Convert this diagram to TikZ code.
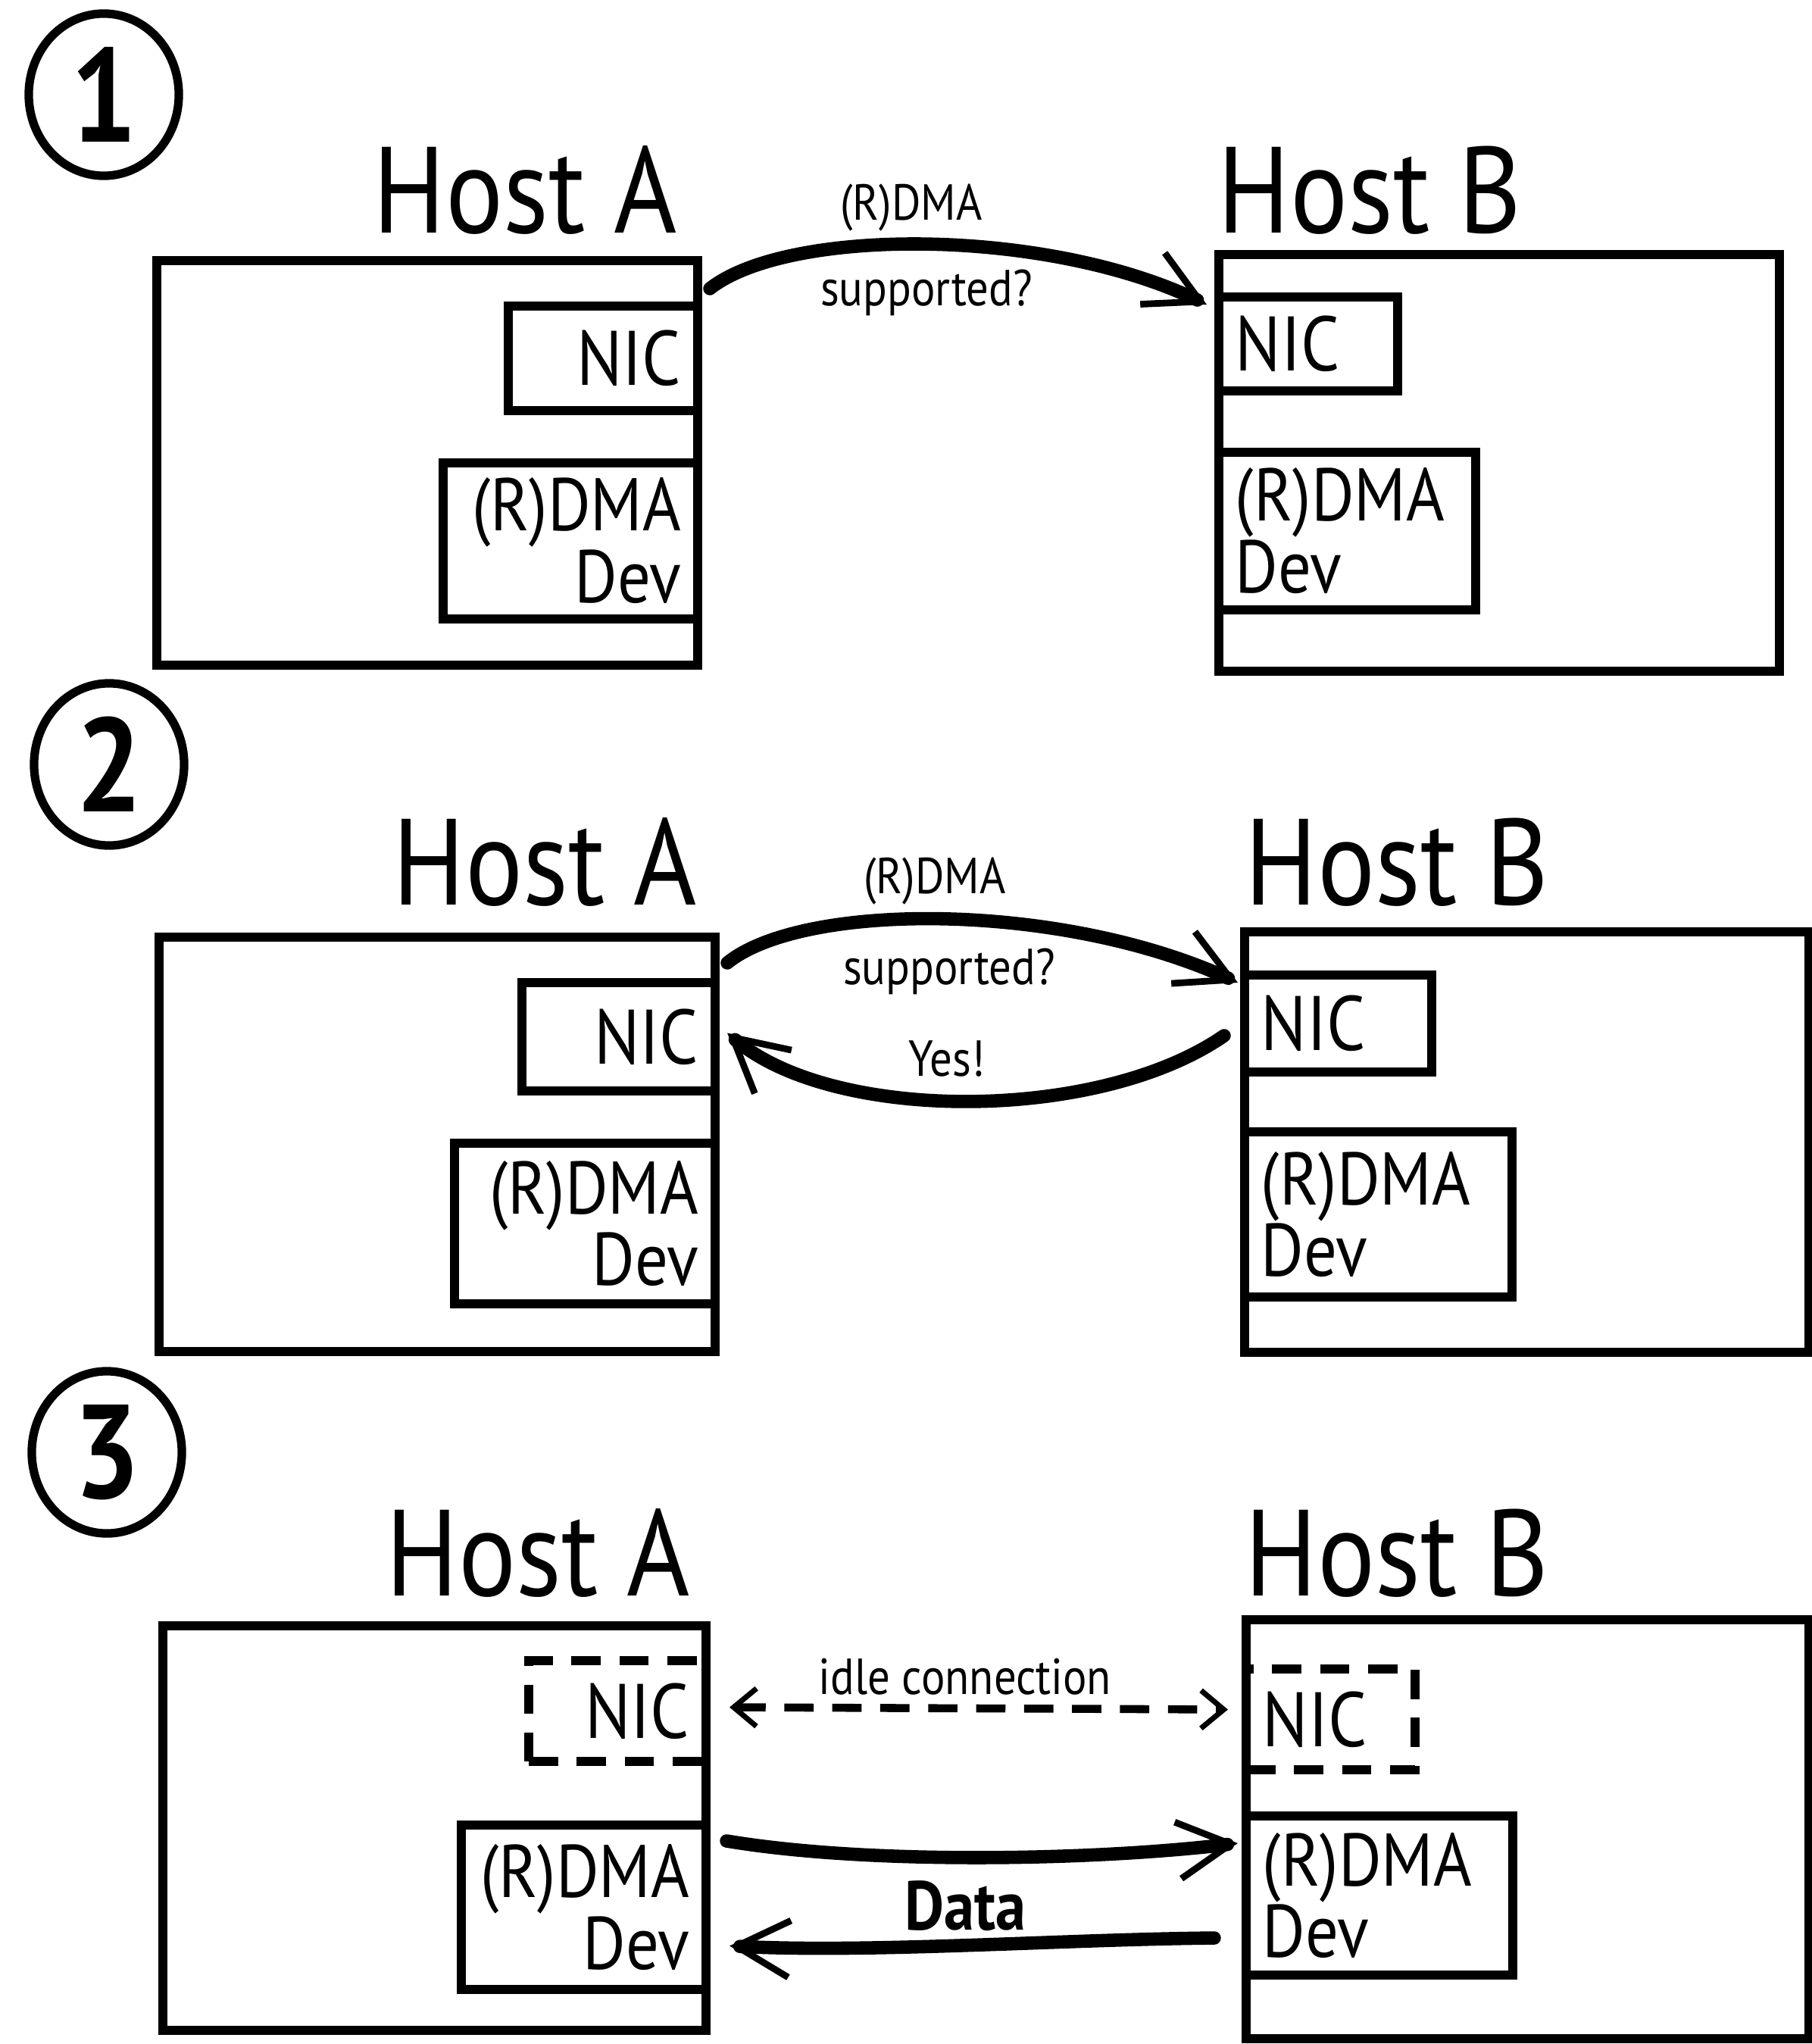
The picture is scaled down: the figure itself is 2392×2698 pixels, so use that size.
\documentclass[tikz,border=0pt]{standalone}
\usepackage{fontspec}
\setmainfont[FakeStretch=0.88]{PT Sans}
\usetikzlibrary{arrows.meta,shapes.geometric}

\tikzset{
    numring/.style={draw, ellipse, line width=3.2pt, inner sep=0pt,
        minimum width=1.98cm, minimum height=2.14cm,
        font=\fontsize{50}{50}\selectfont\bfseries},
    hostname/.style={font=\fontsize{46}{48}\selectfont, inner sep=0pt},
    host/.style={draw, line width=3.4pt, inner sep=0pt},
    part/.style={draw, line width=3.4pt, inner xsep=0.22cm, inner ysep=0pt},
    nic/.style={part, font=\fontsize{29}{30}\selectfont},
    dev/.style={part, font=\fontsize{28}{27}\selectfont},
    idle/.style={dash pattern=on 11pt off 7pt},
    note/.style={font=\fontsize{19}{20}\selectfont, inner sep=0pt},
    flow/.style={line width=5pt, line cap=round,
        -{Straight Barb[length=7mm, width=7.5mm, line width=2.5pt]}},
    flowidle/.style={line width=3pt, idle,
        {Straight Barb[length=3mm, width=5mm, line width=2pt]}-{Straight Barb[length=3mm, width=5mm, line width=2pt]}}
}

\begin{document}
\begin{tikzpicture}[x=0.01cm, y=-0.01cm]
    \useasboundingbox (0,0) rectangle (2392,2698);

    %numeros
    \node[numring] (n1) at (137,125) {1};
    \node[numring] (n2) at (144,1009) {2};
    \node[numring] (n3) at (141,1917) {3};

    %paso 1
    \node[hostname, anchor=base east] (tA1) at (895,308) {Host A};
    \node[hostname, anchor=base west] (tB1) at (1607,308) {Host B};
    \node[host, minimum width=7.14cm, minimum height=5.34cm] (hostA1) at (564,611) {};
    \node[nic, minimum width=2.50cm, minimum height=1.38cm, text width=2.06cm, align=right] (nicA1) at (796,473) {NIC};
    \node[dev, minimum width=3.36cm, minimum height=2.06cm, text width=2.92cm, align=right] (devA1) at (753,714) {(R)DMA\\Dev};
    \node[host, minimum width=7.40cm, minimum height=5.50cm] (hostB1) at (1979,611) {};
    \node[nic, minimum width=2.36cm, minimum height=1.24cm, text width=1.92cm, align=left] (nicB1) at (1727,454) {NIC};
    \node[dev, minimum width=3.39cm, minimum height=2.08cm, text width=2.95cm, align=left] (devB1) at (1778.5,701) {(R)DMA\\Dev};

    \draw[flow] ([shift={(10,-17)}]nicA1.north east) .. controls (1040,300) and (1380,300) .. ([shift={(-10,16)}]nicB1.north west);
    \node[note] (ask1) at (1203,274) {(R)DMA};
    \node[note] (ask1b) at (1223,386) {supported?};

    %paso 2
    \node[hostname, anchor=base east] (tA2) at (921,1194) {Host A};
    \node[hostname, anchor=base west] (tB2) at (1643,1194) {Host B};
    \node[host, minimum width=7.34cm, minimum height=5.47cm] (hostA2) at (577,1510.5) {};
    \node[nic, minimum width=2.55cm, minimum height=1.43cm, text width=2.11cm, align=right] (nicA2) at (816.5,1368.5) {NIC};
    \node[dev, minimum width=3.44cm, minimum height=2.12cm, text width=3.00cm, align=right] (devA2) at (772,1615) {(R)DMA\\Dev};
    \node[host, minimum width=7.45cm, minimum height=5.55cm] (hostB2) at (2015.5,1507.5) {};
    \node[nic, minimum width=2.47cm, minimum height=1.28cm, text width=2.03cm, align=left] (nicB2) at (1766.5,1351) {NIC};
    \node[dev, minimum width=3.53cm, minimum height=2.18cm, text width=3.09cm, align=left] (devB2) at (1819.5,1603) {(R)DMA\\Dev};

    \draw[flow] ([shift={(10,-20)}]nicA2.north east) .. controls (1060,1190) and (1400,1190) .. ([shift={(-3,16)}]nicB2.north west);
    \draw[flow] ([shift={(-21,16)}]nicB2.west) .. controls (1450,1482) and (1100,1482) .. ([shift={(10,-5)}]nicA2.east);
    \node[note] (ask2) at (1234,1163) {(R)DMA};
    \node[note] (ask2b) at (1253,1282) {supported?};
    \node[note] (yes2) at (1250,1398) {Yes!};

    %paso 3
    \node[hostname, anchor=base east] (tA3) at (912,2106) {Host A};
    \node[hostname, anchor=base west] (tB3) at (1643,2106) {Host B};
    \node[host, minimum width=7.17cm, minimum height=5.34cm] (hostA3) at (573.5,2413) {};
    \node[nic, idle, minimum width=2.34cm, minimum height=1.33cm, text width=1.90cm, align=right] (nicA3) at (815,2258.5) {NIC};
    \node[dev, minimum width=3.23cm, minimum height=2.17cm, text width=2.79cm, align=right] (devA3) at (770.5,2517.5) {(R)DMA\\Dev};
    \node[host, minimum width=7.43cm, minimum height=5.53cm] (hostB3) at (2016.5,2414.5) {};
    \node[nic, idle, minimum width=2.23cm, minimum height=1.33cm, text width=1.79cm, align=left] (nicB3) at (1756.5,2269.5) {NIC};
    \node[dev, minimum width=3.52cm, minimum height=2.10cm, text width=3.08cm, align=left] (devB3) at (1821,2502) {(R)DMA\\Dev};

    \draw[flowidle] ([shift={(25,-5)}]nicA3.east) -- ([shift={(-18,-13)}]nicB3.west);
    \node[note] (idle3) at (1274,2213) {idle connection};
    \draw[flow] ([shift={(21,27)}]devA3.north east) .. controls (1150,2462) and (1450,2455) .. ([shift={(-5,42)}]devB3.north west);
    \draw[flow] ([shift={(-36,-55)}]devB3.south west) .. controls (1400,2560) and (1150,2578) .. ([shift={(25,51)}]devA3.east);
    \node[note, font=\fontsize{26}{27}\selectfont\bfseries] (data3) at (1274,2516) {Data};
\end{tikzpicture}
\end{document}
